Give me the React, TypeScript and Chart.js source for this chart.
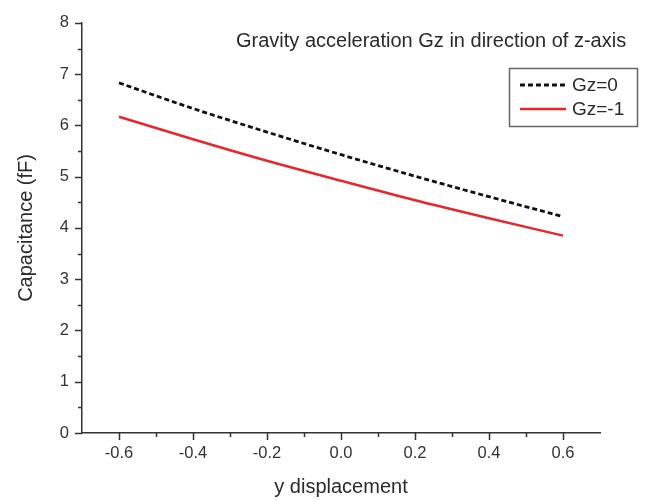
import React, { useEffect, useRef } from 'react';
import { Chart, registerables } from 'chart.js';

Chart.register(...registerables);

const xValues = [-0.6, -0.4, -0.2, 0.0, 0.2, 0.4, 0.6];
const gz0Values = [6.83, 6.33, 5.87, 5.43, 5.01, 4.61, 4.22];
const gzm1Values = [6.17, 5.73, 5.31, 4.92, 4.54, 4.19, 3.85];
const seriesLabels = ['Gz=0', 'Gz=-1'];
const xMajorTicks = [-0.6, -0.4, -0.2, 0.0, 0.2, 0.4, 0.6];
const xMinorTicks = [-0.5, -0.3, -0.1, 0.1, 0.3, 0.5];
const yMajorTicks = [0, 1, 2, 3, 4, 5, 6, 7, 8];
const yMinorTicks = [0.5, 1.5, 2.5, 3.5, 4.5, 5.5, 6.5, 7.5];
const chartTitle = 'Gravity acceleration Gz in direction of z-axis';
const xAxisTitle = 'y displacement';
const yAxisTitle = 'Capacitance (fF)';

const FONT = '"Liberation Sans", Arial, sans-serif';
const AXIS_COLOR = '#333333';
const TEXT_COLOR = '#2a2a2a';

const overlayPlugin = {
  id: 'overlay',
  afterDraw(chart: any) {
    const { ctx, scales } = chart;
    const x = scales.x;
    const y = scales.y;
    const area = chart.chartArea;
    ctx.save();
    ctx.strokeStyle = AXIS_COLOR;
    ctx.lineWidth = 1.5;
    ctx.setLineDash([]);
    const axisY = area.bottom;
    const axisX = area.left;
    const tick = (x1: number, y1: number, x2: number, y2: number) => {
      ctx.beginPath();
      ctx.moveTo(x1, y1);
      ctx.lineTo(x2, y2);
      ctx.stroke();
    };
    xMajorTicks.forEach((v) => {
      const p = Math.round(x.getPixelForValue(v)) + 0.5;
      tick(p, axisY, p, axisY + 7);
    });
    xMinorTicks.forEach((v) => {
      const p = Math.round(x.getPixelForValue(v)) + 0.5;
      tick(p, axisY, p, axisY + 4);
    });
    yMajorTicks.forEach((v) => {
      const p = Math.round(y.getPixelForValue(v)) + 0.5;
      tick(axisX, p, axisX - 7, p);
    });
    yMinorTicks.forEach((v) => {
      const p = Math.round(y.getPixelForValue(v)) + 0.5;
      tick(axisX, p, axisX - 4, p);
    });

    // title
    ctx.fillStyle = TEXT_COLOR;
    ctx.font = `20px ${FONT}`;
    ctx.textAlign = 'left';
    ctx.textBaseline = 'alphabetic';
    ctx.fillText(chartTitle, 236, 47);

    // legend
    const bx = 509.5, by = 68.5, bw = 128, bh = 58;
    ctx.strokeStyle = '#666666';
    ctx.lineWidth = 1.5;
    ctx.strokeRect(bx, by, bw, bh);
    const rows = [85, 109];
    chart.data.datasets.forEach((ds: any, i: number) => {
      const ry = rows[i];
      ctx.strokeStyle = ds.borderColor;
      ctx.lineWidth = ds.borderWidth;
      ctx.setLineDash(ds.borderDash || []);
      ctx.beginPath();
      ctx.moveTo(520, ry);
      ctx.lineTo(566, ry);
      ctx.stroke();
      ctx.setLineDash([]);
      ctx.fillStyle = TEXT_COLOR;
      ctx.font = `19px ${FONT}`;
      ctx.textBaseline = 'middle';
      ctx.fillText(ds.label, 572, ry + 1);
    });
    ctx.restore();
  },
};

export default function App() {
  const canvasRef = useRef<HTMLCanvasElement | null>(null);

  useEffect(() => {
    const canvas = canvasRef.current;
    if (!canvas) return;
    const chart = new Chart(canvas, {
      type: 'line',
      data: {
        datasets: [
          {
            label: seriesLabels[0],
            data: xValues.map((v, i) => ({ x: v, y: gz0Values[i] })),
            borderColor: '#111111',
            borderWidth: 2.8,
            borderDash: [5, 3],
            pointRadius: 0,
            fill: false,
            cubicInterpolationMode: 'monotone',
          },
          {
            label: seriesLabels[1],
            data: xValues.map((v, i) => ({ x: v, y: gzm1Values[i] })),
            borderColor: '#e8262b',
            borderWidth: 2.5,
            pointRadius: 0,
            fill: false,
            cubicInterpolationMode: 'monotone',
          },
        ],
      },
      options: {
        responsive: false,
        animation: false,
        devicePixelRatio: 1,
        layout: { padding: { top: 13, right: 47, left: 0, bottom: 0 } },
        plugins: {
          legend: { display: false },
          title: { display: false },
          tooltip: { enabled: false },
        },
        scales: {
          x: {
            type: 'linear',
            min: -0.7,
            max: 0.7,
            afterBuildTicks: (scale: any) => {
              scale.ticks = xMajorTicks.map((v) => ({ value: v }));
            },
            afterFit: (scale: any) => {
              scale.height = 68;
            },
            grid: { display: false, drawTicks: false },
            border: { display: true, color: AXIS_COLOR, width: 1.5 },
            ticks: {
              padding: 11,
              color: AXIS_COLOR,
              font: { family: FONT, size: 16.5 },
              callback: (v: any) => Number(v).toFixed(1),
              maxRotation: 0,
            },
            title: {
              display: true,
              text: xAxisTitle,
              color: TEXT_COLOR,
              font: { family: FONT, size: 20 },
              padding: { top: 0, bottom: 2 },
            },
          },
          y: {
            type: 'linear',
            min: 0,
            max: 8,
            afterBuildTicks: (scale: any) => {
              scale.ticks = yMajorTicks.map((v) => ({ value: v }));
            },
            afterFit: (scale: any) => {
              scale.width = 82;
            },
            grid: { display: false, drawTicks: false },
            border: { display: true, color: AXIS_COLOR, width: 1.5 },
            ticks: {
              padding: 13,
              color: AXIS_COLOR,
              font: { family: FONT, size: 16.5 },
              callback: (v: any) => String(v),
            },
            title: {
              display: true,
              text: yAxisTitle,
              color: TEXT_COLOR,
              font: { family: FONT, size: 20 },
              padding: { top: 14, bottom: 0 },
            },
          },
        },
      },
      plugins: [overlayPlugin],
    } as any);
    return () => chart.destroy();
  }, []);

  return (
    <div style={{ position: 'absolute', left: 0, top: 0, width: 647, height: 501, background: '#ffffff' }}>
      <canvas ref={canvasRef} width={647} height={501} style={{ display: 'block' }} />
    </div>
  );
}
